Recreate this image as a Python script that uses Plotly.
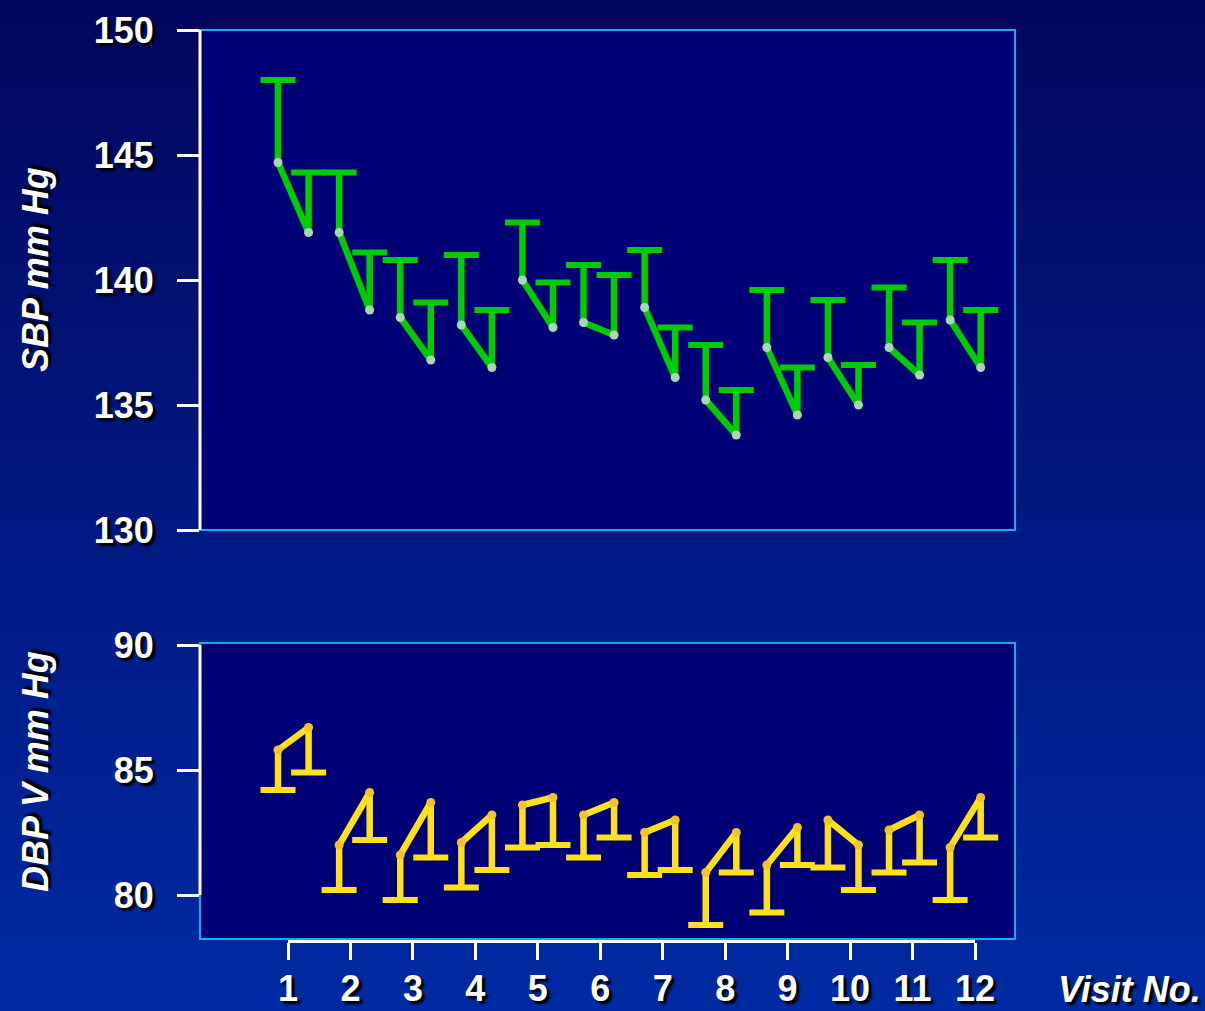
import plotly.graph_objects as go

# ---- data -------------------------------------------------------------
visits = list(range(1, 13))
visit_labels = [str(v) for v in visits]

# systolic: first and second reading of each visit (mean and upper bar end)
sbp_first_mean = [144.7, 141.9, 138.5, 138.2, 140.0, 138.3, 138.9, 135.2, 137.3, 136.9, 137.3, 138.4]
sbp_first_upper = [148.0, 144.3, 140.8, 141.0, 142.3, 140.6, 141.2, 137.4, 139.6, 139.2, 139.7, 140.8]
sbp_second_mean = [141.9, 138.8, 136.8, 136.5, 138.1, 137.8, 136.1, 133.8, 134.6, 135.0, 136.2, 136.5]
sbp_second_upper = [144.3, 141.1, 139.1, 138.8, 139.9, 140.2, 138.1, 135.6, 136.5, 136.6, 138.3, 138.8]

# diastolic: first and second reading of each visit (mean and lower bar end)
dbp_first_mean = [85.8, 82.0, 81.6, 82.1, 83.6, 83.2, 82.5, 80.9, 81.2, 83.0, 82.6, 81.9]
dbp_first_lower = [84.2, 80.2, 79.8, 80.3, 81.9, 81.5, 80.8, 78.8, 79.3, 81.1, 80.9, 79.8]
dbp_second_mean = [86.7, 84.1, 83.7, 83.2, 83.9, 83.7, 83.0, 82.5, 82.7, 82.0, 83.2, 83.9]
dbp_second_lower = [84.9, 82.2, 81.5, 81.0, 82.0, 82.3, 81.0, 80.9, 81.2, 80.2, 81.3, 82.3]

sbp_ticks = [130, 135, 140, 145, 150]
dbp_ticks = [80, 85, 90]

# ---- styling ----------------------------------------------------------
W, H = 1205, 1011
GREEN = "#00cc00"
GREEN_DOT = "#a8d8b0"
YELLOW = "#ffe01c"
YELLOW_DOT = "#f2c42a"
NAVY = "#000076"
CYAN = "#12aee6"
FONT = "Liberation Sans"
SHADOW = "3px 3px 2px #000000"
OFFSET = 0.25      # half-distance between the two readings of a visit
LW = 6.5


def px_x(p):
    return p / W


def px_y(p):
    return 1 - p / H


x_first = [v - OFFSET for v in visits]
x_second = [v + OFFSET for v in visits]


def pair_path(xa, ya, xb, yb):
    xs, ys = [], []
    for a, b, c, d in zip(xa, ya, xb, yb):
        xs += [a, c, None]
        ys += [b, d, None]
    return xs, ys


def add_series(fig, mean1, end1, mean2, end2, color, dot, xref, yref):
    # connecting line between the two readings of each visit
    lx, ly = pair_path(x_first, mean1, x_second, mean2)
    fig.add_trace(go.Scatter(x=lx, y=ly, mode="lines", xaxis=xref, yaxis=yref,
                             line=dict(color=color, width=LW), hoverinfo="skip"))
    # error bar stems
    sx, sy = pair_path(x_first + x_second, mean1 + mean2, x_first + x_second, end1 + end2)
    fig.add_trace(go.Scatter(x=sx, y=sy, mode="lines", xaxis=xref, yaxis=yref,
                             line=dict(color=color, width=LW), hoverinfo="skip"))
    # caps
    fig.add_trace(go.Scatter(x=x_first + x_second, y=end1 + end2, mode="markers",
                             xaxis=xref, yaxis=yref, hoverinfo="skip",
                             marker=dict(symbol="line-ew", size=25,
                                         line=dict(color=color, width=6))))
    # means
    fig.add_trace(go.Scatter(x=x_first + x_second, y=mean1 + mean2, mode="markers",
                             xaxis=xref, yaxis=yref, hoverinfo="skip",
                             marker=dict(size=9, color=dot, line=dict(width=0))))


fig = go.Figure()
add_series(fig, sbp_first_mean, sbp_first_upper, sbp_second_mean, sbp_second_upper,
           GREEN, GREEN_DOT, "x", "y")
add_series(fig, dbp_first_mean, dbp_first_lower, dbp_second_mean, dbp_second_lower,
           YELLOW, YELLOW_DOT, "x2", "y2")
# carrier for the visit-number axis
fig.add_trace(go.Scatter(x=visits, y=[0.5] * len(visits), mode="markers",
                         xaxis="x3", yaxis="y3", opacity=0, hoverinfo="skip"))

# ---- background gradient ------------------------------------------------
top_rgb = (3, 6, 94)
bot_rgb = (0, 42, 163)
n_bands = 80
shapes = []
for i in range(n_bands):
    t = i / (n_bands - 1)
    c = tuple(round(top_rgb[k] + (bot_rgb[k] - top_rgb[k]) * t) for k in range(3))
    shapes.append(dict(type="rect", xref="paper", yref="paper", layer="below",
                       x0=0, x1=1, y0=1 - (i + 1) / n_bands - 0.002, y1=1 - i / n_bands,
                       fillcolor="rgb(%d,%d,%d)" % c, line=dict(width=0)))

# plot boxes
for xr, yr in (("x", "y"), ("x2", "y2")):
    shapes.append(dict(type="rect", xref=xr + " domain", yref=yr + " domain", layer="below",
                       x0=0, x1=1, y0=0, y1=1, fillcolor=NAVY,
                       line=dict(color=CYAN, width=2)))
# white value axes
shapes.append(dict(type="line", xref="x domain", yref="y", x0=0, x1=0,
                   y0=min(sbp_ticks), y1=max(sbp_ticks), line=dict(color="white", width=3)))
shapes.append(dict(type="line", xref="x2 domain", yref="y2", x0=0, x1=0,
                   y0=min(dbp_ticks), y1=max(dbp_ticks), line=dict(color="white", width=3)))

tick_font = dict(family=FONT, size=36, color="white", weight="bold", shadow=SHADOW)
title_font = dict(family=FONT, size=36, color="white", weight="bold", style="italic",
                  shadow=SHADOW)

x_dom = [px_x(200), px_x(1015)]
x_rng = [(200 - 232.2) / 61.1, (1015 - 232.2) / 61.1]

yaxis_common = dict(showgrid=False, zeroline=False, showline=False, ticks="outside",
                    ticklen=22, tickwidth=3, tickcolor="white", tickfont=tick_font,
                    ticklabelstandoff=16, automargin=False)

fig.update_layout(
    width=W, height=H,
    margin=dict(l=0, r=0, t=0, b=0, pad=0, autoexpand=False),
    paper_bgcolor="rgb(1,24,128)",
    plot_bgcolor="rgba(0,0,0,0)",
    showlegend=False,
    shapes=shapes,
    xaxis=dict(domain=x_dom, range=x_rng, visible=False, anchor="y"),
    yaxis=dict(domain=[px_y(530), px_y(30)], range=[130, 150], tickvals=sbp_ticks,
               anchor="x", **yaxis_common),
    xaxis2=dict(domain=x_dom, range=x_rng, visible=False, anchor="y2"),
    yaxis2=dict(domain=[px_y(939), px_y(643)], range=[78.24, 90.08], tickvals=dbp_ticks,
                anchor="x2", **yaxis_common),
    xaxis3=dict(domain=[px_x(288), px_x(975)], range=[1, 12], tickvals=visits,
                ticktext=visit_labels, anchor="free", position=px_y(941),
                showline=True, linecolor="white", linewidth=3, ticks="outside",
                ticklen=17, tickwidth=3, tickcolor="white", tickfont=tick_font,
                showgrid=False, zeroline=False, ticklabelstandoff=-2, automargin=False),
    yaxis3=dict(domain=[0, 0.05], range=[0, 1], visible=False),
    annotations=[
        dict(text="SBP mm Hg", xref="paper", yref="paper", x=px_x(35), y=px_y(270),
             textangle=-90, showarrow=False, font=title_font,
             xanchor="center", yanchor="middle"),
        dict(text="DBP V mm Hg", xref="paper", yref="paper", x=px_x(35), y=px_y(772),
             textangle=-90, showarrow=False, font=title_font,
             xanchor="center", yanchor="middle"),
        dict(text="Visit No.", xref="paper", yref="paper", x=px_x(1203), y=px_y(989),
             showarrow=False, font=title_font, xanchor="right", yanchor="middle"),
    ],
)

fig.write_html("out.html")
